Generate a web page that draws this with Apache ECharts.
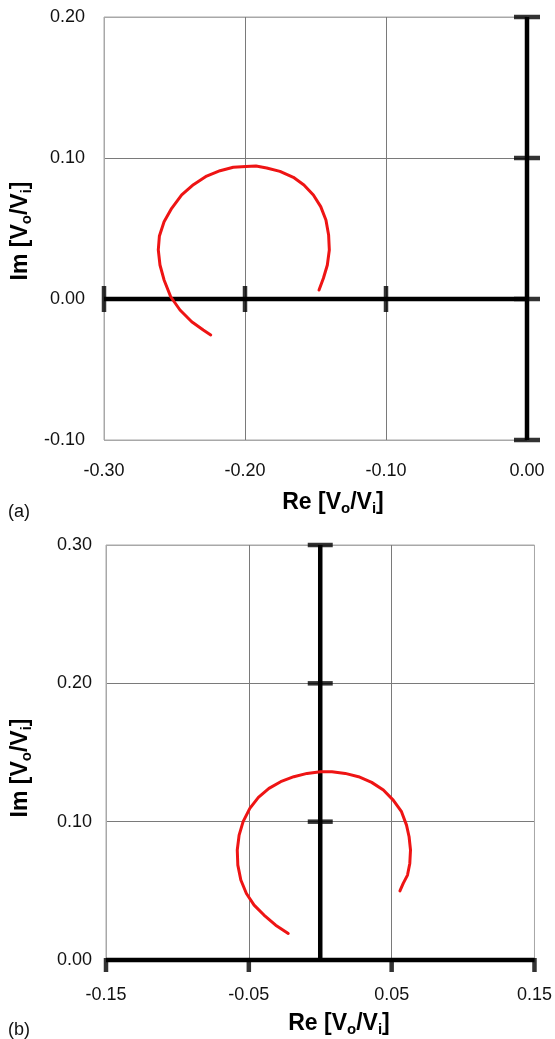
<!DOCTYPE html>
<html>
<head>
<meta charset="utf-8">
<script src="https://cdn.jsdelivr.net/npm/echarts@6/dist/echarts.min.js"></script>
<style>html,body{margin:0;padding:0;background:#fff}#c{width:555px;height:1039px}</style>
</head>
<body>
<div id="c"></div>
<script>
// ---- panel (a) ----
const xTicksA = [-0.30, -0.20, -0.10, 0.00];
const yTicksA = [-0.10, 0.00, 0.10, 0.20];
const reA = [-0.1475,-0.1444,-0.1416,-0.1402,-0.1407,-0.1426,-0.1463,-0.1515,-0.1582,-0.1657,-0.1752,-0.1846,-0.1922,-0.1993,-0.2083,-0.2177,-0.2272,-0.2366,-0.2449,-0.2520,-0.2574,-0.2607,-0.2615,-0.2603,-0.2574,-0.2527,-0.2461,-0.2378,-0.2296,-0.2243];
const imA = [0.0064,0.0147,0.0241,0.0348,0.0454,0.0560,0.0655,0.0738,0.0809,0.0863,0.0905,0.0929,0.0943,0.0939,0.0934,0.0910,0.0872,0.0811,0.0738,0.0643,0.0548,0.0447,0.0348,0.0241,0.0135,0.0016,-0.0078,-0.0161,-0.0220,-0.0255];
// ---- panel (b) ----
const xTicksB = [-0.15, -0.05, 0.05, 0.15];
const yTicksB = [0.00, 0.10, 0.20, 0.30];
const reB = [0.0558,0.0581,0.0611,0.0627,0.0632,0.0622,0.0604,0.0569,0.0511,0.0442,0.0360,0.0268,0.0175,0.0082,0.0001,-0.0092,-0.0185,-0.0277,-0.0359,-0.0433,-0.0493,-0.0540,-0.0568,-0.0581,-0.0577,-0.0556,-0.0517,-0.0463,-0.0394,-0.0312,-0.0224];
const imB = [0.0500,0.0554,0.0614,0.0698,0.0795,0.0891,0.0975,0.1072,0.1156,0.1229,0.1284,0.1325,0.1349,0.1361,0.1361,0.1349,0.1325,0.1289,0.1241,0.1176,0.1096,0.1000,0.0903,0.0795,0.0686,0.0578,0.0481,0.0397,0.0325,0.0252,0.0192];

const zip = (a, b) => a.map((v, i) => [v, b[i]]);
const FONT = 'Liberation Sans, Arial, sans-serif';
const fmt = v => (Math.abs(v) < 1e-9 ? 0 : v).toFixed(2);
const RED = '#ee1414';
const AX = '#000';
const gridColors = ['#a8a8a8', '#7a7a7a', '#7a7a7a', '#a8a8a8'];

function valAxis(gi, min, max, interval, pos, margin) {
  return {
    type: 'value', gridIndex: gi, min: min, max: max, interval: interval, position: pos,
    axisLine: { show: false }, axisTick: { show: false },
    axisLabel: { formatter: fmt, fontSize: 18, color: '#111', fontFamily: FONT, margin: margin },
    splitLine: { show: true, lineStyle: { color: gridColors, width: 1 } }
  };
}

const richT = {
  b: { fontSize: 23, fontWeight: 'bold', fontFamily: FONT, color: '#111', lineHeight: 26 },
  s: { fontSize: 15, fontWeight: 'bold', fontFamily: FONT, color: '#111', lineHeight: 6, verticalAlign: 'bottom' }
};
const TITLE = '{b|Re [V}{s|o}{b|/V}{s|i}{b|]}';
const TITLEY = '{b|Im [V}{s|o}{b|/V}{s|i}{b|]}';

const chart = echarts.init(document.getElementById('c'), null, { renderer: 'canvas' });
chart.setOption({
  animation: false,
  backgroundColor: '#fff',
  grid: [
    { left: 104, top: 17, width: 423, height: 423, show: true, borderColor: '#a8a8a8', borderWidth: 1 },
    { left: 106, top: 545, width: 431, height: 415, show: true, borderColor: '#a8a8a8', borderWidth: 1 }
  ],
  xAxis: [
    valAxis(0, xTicksA[0], xTicksA[xTicksA.length - 1], 0.1, 'bottom', 22),
    valAxis(1, xTicksB[0], xTicksB[xTicksB.length - 1], 0.1, 'bottom', 26)
  ],
  yAxis: [
    valAxis(0, yTicksA[0], yTicksA[yTicksA.length - 1], 0.1, 'left', 19),
    valAxis(1, yTicksB[0], yTicksB[yTicksB.length - 1], 0.1, 'left', 14)
  ],
  series: [
    // panel (a) axes
    { type: 'line', xAxisIndex: 0, yAxisIndex: 0, clip: false, showSymbol: false, silent: true,
      data: [[xTicksA[0], 0], [0, 0]], lineStyle: { color: AX, width: 4.5 } },
    { type: 'line', xAxisIndex: 0, yAxisIndex: 0, clip: false, showSymbol: false, silent: true,
      data: [[0, yTicksA[0]], [0, yTicksA[yTicksA.length - 1]]], lineStyle: { color: AX, width: 4.5 } },
    { type: 'scatter', xAxisIndex: 0, yAxisIndex: 0, clip: false, silent: true, symbol: 'rect', symbolSize: [4.5, 26],
      itemStyle: { color: AX }, data: xTicksA.slice(0, 3).map(v => [v, 0]) },
    { type: 'scatter', xAxisIndex: 0, yAxisIndex: 0, clip: false, silent: true, symbol: 'rect', symbolSize: [26, 4.5],
      itemStyle: { color: AX }, data: yTicksA.map(v => [0, v]) },
    // panel (a) curve
    { type: 'line', xAxisIndex: 0, yAxisIndex: 0, clip: false, showSymbol: false,
      data: zip(reA, imA), lineStyle: { color: RED, width: 3, cap: 'round', join: 'round' } },
    // panel (b) axes
    { type: 'line', xAxisIndex: 1, yAxisIndex: 1, clip: false, showSymbol: false, silent: true,
      data: [[xTicksB[0], 0], [xTicksB[xTicksB.length - 1], 0]], lineStyle: { color: AX, width: 4.5 } },
    { type: 'line', xAxisIndex: 1, yAxisIndex: 1, clip: false, showSymbol: false, silent: true,
      data: [[0, yTicksB[0]], [0, yTicksB[yTicksB.length - 1]]], lineStyle: { color: AX, width: 4.5 } },
    { type: 'scatter', xAxisIndex: 1, yAxisIndex: 1, clip: false, silent: true, symbol: 'rect', symbolSize: [4.5, 14],
      symbolOffset: [0, 5], itemStyle: { color: AX }, data: xTicksB.map(v => [v, 0]) },
    { type: 'scatter', xAxisIndex: 1, yAxisIndex: 1, clip: false, silent: true, symbol: 'rect', symbolSize: [25, 4.5],
      itemStyle: { color: AX }, data: yTicksB.slice(1).map(v => [0, v]) },
    // panel (b) curve
    { type: 'line', xAxisIndex: 1, yAxisIndex: 1, clip: false, showSymbol: false,
      data: zip(reB, imB), lineStyle: { color: RED, width: 3, cap: 'round', join: 'round' } }
  ],
  graphic: [
    { type: 'text', x: 333, y: 503, style: { text: TITLE, rich: richT, align: 'center', verticalAlign: 'middle' } },
    { type: 'text', x: 21, y: 231, rotation: Math.PI / 2, style: { text: TITLEY, rich: richT, align: 'center', verticalAlign: 'middle' } },
    { type: 'text', x: 19, y: 512, style: { text: '(a)', fontSize: 18, fontFamily: FONT, fill: '#111', align: 'center', verticalAlign: 'middle' } },
    { type: 'text', x: 339, y: 1024, style: { text: TITLE, rich: richT, align: 'center', verticalAlign: 'middle' } },
    { type: 'text', x: 21, y: 768, rotation: Math.PI / 2, style: { text: TITLEY, rich: richT, align: 'center', verticalAlign: 'middle' } },
    { type: 'text', x: 19, y: 1030, style: { text: '(b)', fontSize: 18, fontFamily: FONT, fill: '#111', align: 'center', verticalAlign: 'middle' } }
  ]
});
</script>
</body>
</html>
